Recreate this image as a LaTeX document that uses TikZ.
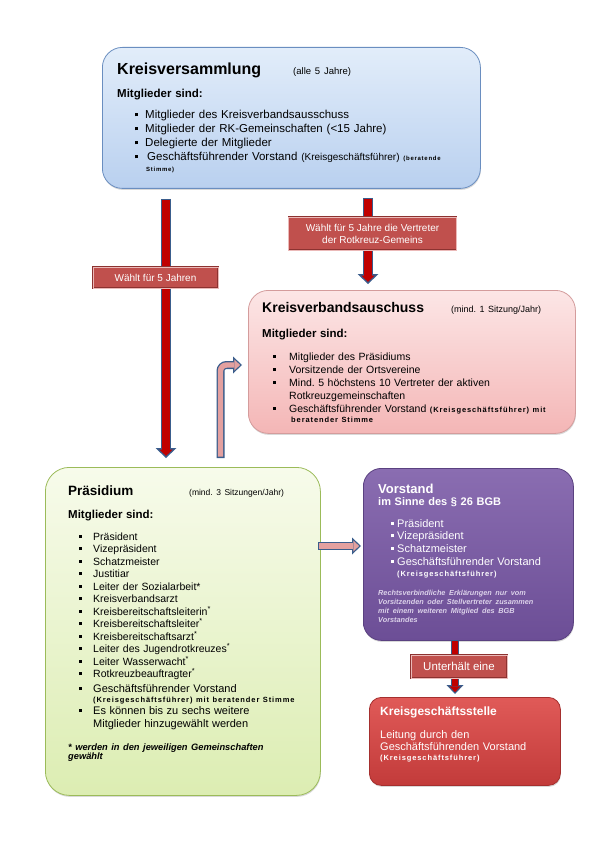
\documentclass[tikz,border=0pt]{standalone}
\usepackage{fontspec}
\setmainfont{Liberation Sans}
\newfontfamily\tinysp[LetterSpace=12]{Liberation Sans}
\usetikzlibrary{positioning,arrows.meta,shadows}
\frenchspacing

\definecolor{kvtop}{HTML}{E2EDFA}
\definecolor{kvbot}{HTML}{B9D0EF}
\definecolor{kvline}{HTML}{6A8EC0}
\definecolor{kvatop}{HTML}{FCE6E6}
\definecolor{kvabot}{HTML}{F4B6B6}
\definecolor{kvaline}{HTML}{D49C9C}
\definecolor{prtop}{HTML}{F7FBEB}
\definecolor{prbot}{HTML}{DCEDB2}
\definecolor{prline}{HTML}{9BBB59}
\definecolor{vstop}{HTML}{8A6DB1}
\definecolor{vsbot}{HTML}{6C4E96}
\definecolor{vsline}{HTML}{5A4180}
\definecolor{vsnote}{HTML}{DCD2EA}
\definecolor{kgstop}{HTML}{E05A58}
\definecolor{kgsbot}{HTML}{C23B3A}
\definecolor{kgsline}{HTML}{A52F2E}
\definecolor{lblfill}{HTML}{C0504D}
\definecolor{lblline}{HTML}{8C3230}
\definecolor{lbledge}{HTML}{EBB9B8}
\definecolor{arrowedge}{HTML}{3A5D8C}
\definecolor{arrowred}{HTML}{C00000}
\definecolor{arrowpink}{HTML}{E3A09F}

\newcommand{\sqb}{\raisebox{0.22em}{\rule{0.27em}{0.27em}}}
\newcommand{\itm}[1]{\makebox[#1][l]{\sqb}}
\newcommand{\klein}{\tinysp\fontsize{7.5}{9}\selectfont\bfseries}

\tikzset{
  box/.style={rounded corners=#1, anchor=north west, inner sep=0pt, line width=0.8pt,
    drop shadow={opacity=0.3, shadow xshift=0.5pt, shadow yshift=-1.5pt}},
  boxtext/.style={anchor=base west, inner sep=0pt, align=left, text width=#1},
  lbl/.style={draw=lblline, double=lbledge, double distance=0.6pt, line width=0.5pt,
    fill=lblfill, text=white, inner sep=0pt, align=center, font=\fontsize{10}{12}\selectfont},
  bigarrow/.style={line width=10.5pt, draw=arrowedge, -{Triangle[length=10pt,width=21pt,line width=0pt]},
    postaction={draw=arrowred, line width=7.5pt, shorten >=2.1pt, shorten <=1.5pt,
      -{Triangle[length=6.4pt,width=13.5pt,line width=0pt]}}},
  slimarrow/.style={line width=8pt, draw=arrowedge, -{Triangle[length=9pt,width=17pt,line width=0pt]},
    postaction={draw=#1, line width=5.4pt, shorten >=1.9pt, shorten <=1.3pt,
      -{Triangle[length=5.8pt,width=11pt,line width=0pt]}}},
  slimarrow/.default=arrowpink
}

\begin{document}
\begin{tikzpicture}[x=1pt,y=-1pt]
\useasboundingbox (0,0) rectangle (595,842);

% Kaesten
\node[box=20pt, draw=kvline, top color=kvtop, bottom color=kvbot, minimum width=378pt, minimum height=141pt] (kv) at (102,47) {};
\node[box=20pt, draw=kvaline, top color=kvatop, bottom color=kvabot, minimum width=327pt, minimum height=143pt] (kva) at (248,290) {};
\node[box=24pt, draw=prline, top color=prtop, bottom color=prbot, minimum width=275pt, minimum height=328pt] (pr) at (45,467) {};
\node[box=18pt, draw=vsline, top color=vstop, bottom color=vsbot, minimum width=210pt, minimum height=172pt] (vs) at (363,468) {};
\node[box=12pt, draw=kgsline, top color=kgstop, bottom color=kgsbot, minimum width=191pt, minimum height=88pt] (kgs) at (369,697) {};

% Texte
\node[boxtext=360pt, font=\fontsize{11.5}{14}\selectfont] (kvtxt) at (117,75) {%
\makebox[176pt][l]{\fontsize{16}{18}\selectfont\bfseries Kreisversammlung}{\fontsize{9.5}{11}\selectfont(alle 5 Jahre)}\\[9pt]
\textbf{Mitglieder sind:}\\[7pt]
\hspace*{18pt}\itm{10pt}Mitglieder des Kreisverbandsausschuss\\
\hspace*{18pt}\itm{10pt}Mitglieder der RK-Gemeinschaften (<15 Jahre)\\
\hspace*{18pt}\itm{10pt}Delegierte der Mitglieder\\
\hspace*{18pt}\itm{12pt}Geschäftsführender Vorstand {\fontsize{10}{12}\selectfont(Kreisgeschäftsführer)} {\tinysp\fontsize{6}{7}\selectfont\bfseries(beratende}\\[-3pt]
\hspace*{29pt}{\tinysp\fontsize{6}{7}\selectfont\bfseries Stimme)}};

\node[boxtext=310pt, font=\fontsize{10.5}{13}\selectfont] (kvatxt) at (262,312) {%
\makebox[189pt][l]{\fontsize{14}{16}\selectfont\bfseries Kreisverbandsauschuss}{\fontsize{9}{11}\selectfont(mind. 1 Sitzung/Jahr)}\\[12pt]
{\fontsize{11.5}{14}\selectfont\bfseries Mitglieder sind:}\\[10pt]
\hspace*{11pt}\itm{16pt}Mitglieder des Präsidiums\\
\hspace*{11pt}\itm{16pt}Vorsitzende der Ortsvereine\\
\hspace*{11pt}\itm{16pt}Mind. 5 höchstens 10 Vertreter der aktiven\\
\hspace*{27pt}Rotkreuzgemeinschaften\\
\hspace*{11pt}\itm{16pt}Geschäftsführender Vorstand {\klein(Kreisgeschäftsführer) mit}\\[-3pt]
\hspace*{29pt}{\klein beratender Stimme}};

\node[boxtext=250pt, font=\fontsize{10.5}{12.5}\selectfont] (prtxt) at (68,495) {%
\makebox[121pt][l]{\fontsize{13.5}{16}\selectfont\bfseries Präsidium}{\fontsize{8.5}{10}\selectfont(mind. 3 Sitzungen/Jahr)}\\[10.5pt]
{\fontsize{11.5}{14}\selectfont\bfseries Mitglieder sind:}\\[9.5pt]
\hspace*{11pt}\itm{14pt}Präsident\\
\hspace*{11pt}\itm{14pt}Vizepräsident\\
\hspace*{11pt}\itm{14pt}Schatzmeister\\
\hspace*{11pt}\itm{14pt}Justitiar\\
\hspace*{11pt}\itm{14pt}Leiter der Sozialarbeit*\\
\hspace*{11pt}\itm{14pt}Kreisverbandsarzt\\
\hspace*{11pt}\itm{14pt}Kreisbereitschaftsleiterin\textsuperscript{*}\\
\hspace*{11pt}\itm{14pt}Kreisbereitschaftsleiter\textsuperscript{*}\\
\hspace*{11pt}\itm{14pt}Kreisbereitschaftsarzt\textsuperscript{*}\\
\hspace*{11pt}\itm{14pt}Leiter des Jugendrotkreuzes\textsuperscript{*}\\
\hspace*{11pt}\itm{14pt}Leiter Wasserwacht\textsuperscript{*}\\
\hspace*{11pt}\itm{14pt}Rotkreuzbeauftragter\textsuperscript{*}\\[2.5pt]
\hspace*{11pt}\itm{14pt}{\fontsize{11}{13}\selectfont Geschäftsführender Vorstand}\\[-2.5pt]
\hspace*{25pt}{\klein(Kreisgeschäftsführer) mit beratender Stimme}\\[-0.5pt]
\hspace*{11pt}\itm{14pt}{\fontsize{11}{13}\selectfont Es können bis zu sechs weitere}\\
\hspace*{25pt}{\fontsize{11}{13}\selectfont Mitglieder hinzugewählt werden}\\[10.5pt]
{\fontsize{9.3}{10}\selectfont\bfseries\itshape * werden in den jeweiligen Gemeinschaften}\\[-3.5pt]
{\fontsize{9.3}{10}\selectfont\bfseries\itshape gewählt}};

\node[boxtext=190pt, text=white, font=\fontsize{11}{12.7}\selectfont] (vstxt) at (378,493) {%
{\fontsize{13}{15}\selectfont\bfseries Vorstand}\\[-0.7pt]
{\bfseries im Sinne des § 26 BGB}\\[9.3pt]
\hspace*{13pt}\itm{6pt}Präsident\\
\hspace*{13pt}\itm{6pt}Vizepräsident\\
\hspace*{13pt}\itm{6pt}Schatzmeister\\
\hspace*{13pt}\itm{6pt}Geschäftsführender Vorstand\\[-1.7pt]
\hspace*{19pt}{\klein(Kreisgeschäftsführer)}\\[6.3pt]
{\color{vsnote}\fontsize{7.3}{9}\selectfont\bfseries\itshape Rechtsverbindliche Erklärungen nur vom}\\[-3.7pt]
{\color{vsnote}\fontsize{7.3}{9}\selectfont\bfseries\itshape Vorsitzenden oder Stellvertreter zusammen}\\[-3.7pt]
{\color{vsnote}\fontsize{7.3}{9}\selectfont\bfseries\itshape mit einem weiteren Mitglied des BGB}\\[-3.7pt]
{\color{vsnote}\fontsize{7.3}{9}\selectfont\bfseries\itshape Vorstandes}};

\node[boxtext=175pt, text=white, font=\fontsize{11}{12.5}\selectfont] (kgstxt) at (380,715) {%
{\fontsize{12}{14}\selectfont\bfseries Kreisgeschäftsstelle}\\[10.5pt]
Leitung durch den\\[-0.5pt]
Geschäftsführenden Vorstand\\[-2.5pt]
{\klein(Kreisgeschäftsführer)}};

% Pfeile
\coordinate (w1a) at (166,199);
\coordinate (w1b) at (166,458);
\coordinate (w2a) at (368,198);
\coordinate (w2b) at (368,284);
\coordinate (b1) at (220.5,458);
\coordinate (b2) at (242,365);
\coordinate (h1) at (318,546);
\coordinate (h2) at (361,546);
\coordinate (u1) at (455,640);
\coordinate (u2) at (455,694);

\draw[bigarrow] (w1a) -- (w1b);
\draw[bigarrow] (w2a) -- (w2b);
\draw[slimarrow, rounded corners=6pt] (b1) |- (b2);
\draw[slimarrow] (h1) -- (h2);
\draw[slimarrow=arrowred] (u1) -- (u2);

% Beschriftungen
\node[lbl, minimum width=125pt, minimum height=21pt] (wahl1) at (155.5,277.5) {Wählt für 5 Jahren};
\node[lbl, minimum width=168pt, minimum height=33pt] (wahl2) at (372.5,233.5) {Wählt für 5 Jahre die Vertreter\\der Rotkreuz-Gemeins};
\node[lbl, minimum width=96pt, minimum height=23pt, font=\fontsize{11.5}{13}\selectfont] (unterh) at (459,666.5) {Unterhält eine};

\end{tikzpicture}
\end{document}
